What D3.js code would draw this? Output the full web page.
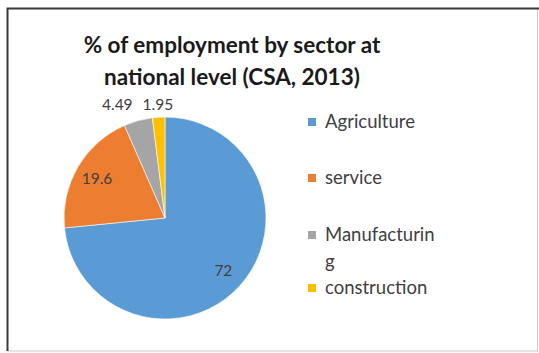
<!DOCTYPE html>
<html>
<head>
<meta charset="utf-8">
<script src="https://cdn.jsdelivr.net/npm/d3@7"></script>
<style>
  html, body { margin: 0; padding: 0; background: #ffffff; }
  svg { display: block; }
  text { font-family: Lato, "Open Sans", sans-serif; }
</style>
</head>
<body>
<svg id="chart" width="539" height="353"></svg>
<script>
// Employment share by sector (CSA, 2013)
const sectors = ["Agriculture", "service", "Manufacturing", "construction"];
const shares = [72, 19.6, 4.49, 1.95];
const sectorColors = ["#5B9BD5", "#ED7D31", "#A5A5A5", "#FFC000"];
const legendLines = [["Agriculture"], ["service"], ["Manufacturin", "g"], ["construction"]];
const titleLines = ["% of employment by sector at", "national level (CSA, 2013)"];

const svg = d3.select("#chart");
const W = 539, H = 353;

// chart frame
svg.append("rect")
  .attr("x", 7.5).attr("y", 8.5)
  .attr("width", W - 9).attr("height", H - 10.5)
  .attr("fill", "#ffffff")
  .attr("stroke", "#c8c8c8").attr("stroke-width", 1);
svg.append("path")
  .attr("d", `M7.5,${H - 2} L7.5,8.5 L${W},8.5`)
  .attr("fill", "none").attr("stroke", "#3a3a3a").attr("stroke-width", 2);

// title
svg.append("g").selectAll("text")
  .data(titleLines)
  .join("text")
  .attr("x", 232)
  .attr("y", (d, i) => 53 + i * 32)
  .attr("text-anchor", "middle")
  .attr("font-size", 22.5)
  .attr("font-weight", "bold")
  .attr("fill", "#1a1a1a")
  .text(d => d);

// pie
const cx = 165, cy = 218, r = 101;
const pie = d3.pie().sort(null).value(d => d.value);
const arcs = pie(sectors.map((s, i) => ({ name: s, value: shares[i], color: sectorColors[i] })));
const arc = d3.arc().innerRadius(0).outerRadius(r);

const g = svg.append("g").attr("transform", `translate(${cx},${cy})`);
g.selectAll("path")
  .data(arcs)
  .join("path")
  .attr("d", arc)
  .attr("fill", d => d.data.color)
  .attr("stroke", "#ffffff")
  .attr("stroke-width", 0.6);

// data labels: large slices inside, small slices in a row above the rim
const inner = d3.arc().innerRadius(r * 0.78).outerRadius(r * 0.78);
const outer = d3.arc().innerRadius(r * 1.12).outerRadius(r * 1.12);
const labels = g.selectAll("text.val")
  .data(arcs)
  .join("text")
  .attr("class", "val")
  .attr("text-anchor", "middle")
  .attr("dy", "0.35em")
  .attr("font-size", 15.5)
  .attr("fill", "#404040")
  .text(d => d.data.value);

const pos = arcs.map(d => d.data.value > 10 ? inner.centroid(d) : [outer.centroid(d)[0], -r - 12]);
// push outside labels apart, right to left, so they do not overlap
const widths = labels.nodes().map(n => n.getComputedTextLength());
const outsideIdx = arcs.map((d, i) => i).filter(i => arcs[i].data.value <= 10).reverse();
for (let k = 1; k < outsideIdx.length; k++) {
  const a = outsideIdx[k - 1], b = outsideIdx[k];
  const minGap = (widths[a] + widths[b]) / 2 + 10;
  if (pos[a][0] - pos[b][0] < minGap) pos[b][0] = pos[a][0] - minGap;
}
labels.attr("transform", (d, i) => `translate(${pos[i][0]},${pos[i][1]})`);

// legend
const legendY = [122, 178, 235, 288];
const lg = svg.append("g");
const items = lg.selectAll("g")
  .data(sectors)
  .join("g")
  .attr("transform", (d, i) => `translate(308,${legendY[i]})`);
items.append("rect")
  .attr("x", 0).attr("y", -4)
  .attr("width", 8).attr("height", 8)
  .attr("fill", (d, i) => sectorColors[i]);
items.append("text")
  .attr("x", 17)
  .attr("font-size", 18.5)
  .attr("fill", "#404040")
  .selectAll("tspan")
  .data((d, i) => legendLines[i])
  .join("tspan")
  .attr("x", 17)
  .attr("y", (d, j) => j * 27)
  .attr("dy", "0.35em")
  .text(d => d);
</script>
</body>
</html>
